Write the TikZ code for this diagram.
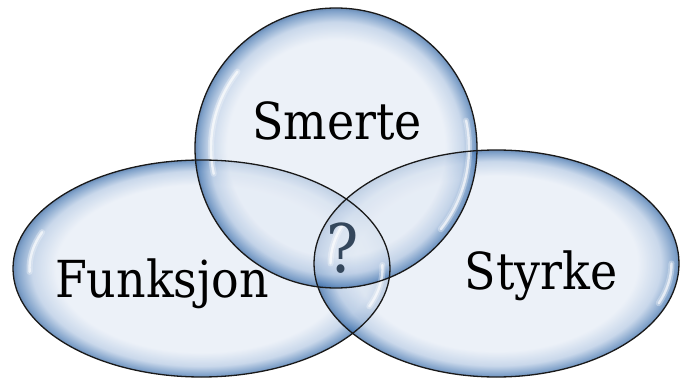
\documentclass[tikz,border=0pt]{standalone}
\usepackage{fontspec}
\setmainfont{DejaVu Serif Condensed}
\usetikzlibrary{calc}
\definecolor{bin}{HTML}{E4EBF5}
\definecolor{bmid}{HTML}{B2C7E2}
\definecolor{bedge}{HTML}{4A7AB3}
\definecolor{bdark}{HTML}{2D5C97}
\definecolor{qcol}{HTML}{34475C}
\pgfdeclareradialshading{bubble}{\pgfpoint{0bp}{0bp}}{color(0bp)=(bin); color(19.3bp)=(bin); color(22.5bp)=(bmid); color(24.5bp)=(bedge); color(25bp)=(bdark); color(50bp)=(bdark)}
\tikzset{
  bubblefill/.style={shading=bubble, fill opacity=0.7},
  rimline/.style={draw=black!90, line width=1.3pt},
  glowwide/.style={draw=white, line width=6pt, opacity=0.3, line cap=round},
  glowthin/.style={draw=white, line width=2.4pt, opacity=0.65, line cap=round},
  label/.style={anchor=base, font=\fontsize{51}{58}\selectfont, text=black, inner sep=0pt},
}
\begin{document}
\begin{tikzpicture}[x=1pt,y=1pt]
\useasboundingbox (0,0) rectangle (680,378);
\coordinate (cL) at (201.5,109.5);
\coordinate (cR) at (496.5,114.5);
\coordinate (cT) at (336,230);
% fills
\path[bubblefill] (cL) ellipse [x radius=188.5, y radius=108.5];
\path[bubblefill] (cR) ellipse [x radius=182.5, y radius=113.5];
\path[bubblefill] (cT) ellipse [x radius=141, y radius=140];
% highlights
\foreach \st in {glowwide,glowthin}{
  \draw[\st] ($(cL)+(158:172 and 97)$) arc[start angle=158, end angle=182, x radius=172, y radius=97];
  \draw[\st] ($(cL)+(-22:181 and 101)$) arc[start angle=-22, end angle=2, x radius=181, y radius=101];
  \draw[\st] ($(cR)+(158:166 and 103)$) arc[start angle=158, end angle=180, x radius=166, y radius=103];
  \draw[\st] ($(cR)+(-22:175 and 106)$) arc[start angle=-22, end angle=0, x radius=175, y radius=106];
  \draw[\st] ($(cT)+(142:125 and 124)$) arc[start angle=142, end angle=192, x radius=125, y radius=124];
  \draw[\st] ($(cT)+(-38:133 and 132)$) arc[start angle=-38, end angle=12, x radius=133, y radius=132];
}
% outlines
\draw[rimline] (cL) ellipse [x radius=188.5, y radius=108.5];
\draw[rimline] (cR) ellipse [x radius=182.5, y radius=113.5];
\draw[rimline] (cT) ellipse [x radius=141, y radius=140];
% labels
\node[label] (smerte) at (337,238) {Smerte};
\node[label] (funksjon) at (162,81) {Funksjon};
\node[label] (styrke) at (541,89) {Styrke};
\node[label, text=qcol, font=\fontsize{67}{74}\selectfont] (q) at (343,106) {?};
\end{tikzpicture}
\end{document}
